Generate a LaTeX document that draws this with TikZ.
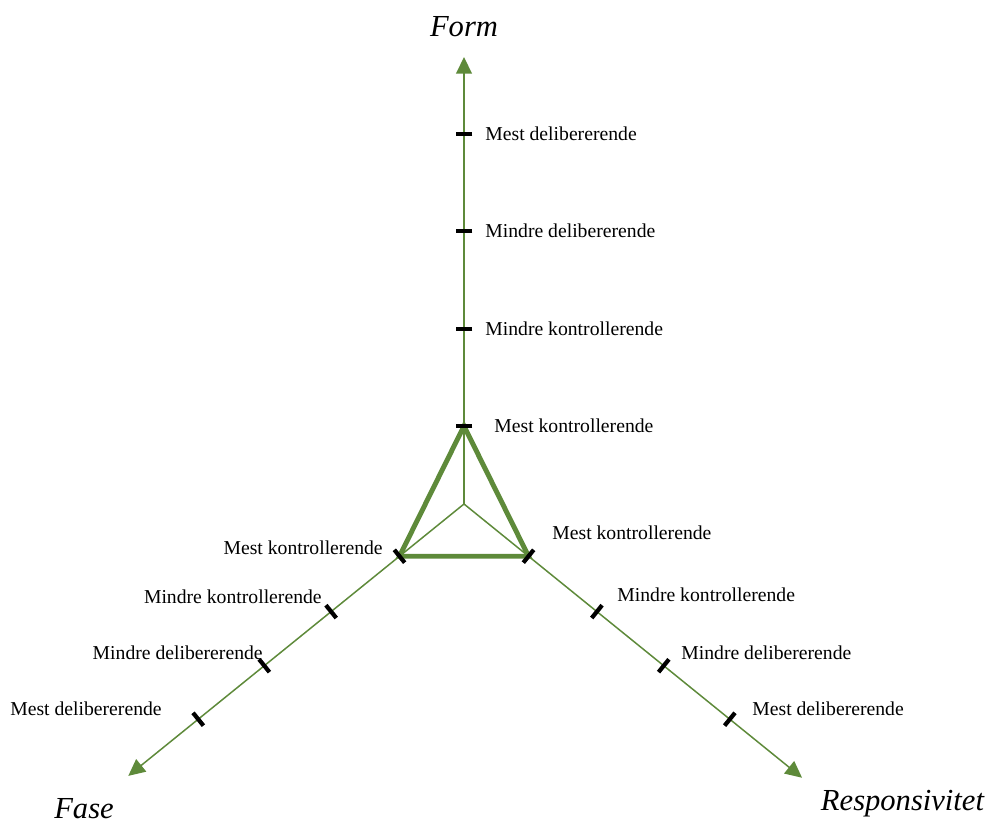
\documentclass[tikz,border=0pt]{standalone}
\usepackage{fontspec}
\setmainfont{Liberation Serif}
\usetikzlibrary{positioning, calc}
\usetikzlibrary{arrows.meta}
\definecolor{axgreen}{RGB}{94,138,58}

\begin{document}
\begin{tikzpicture}[
    axis/.style={axgreen, line width=0.85pt, -{Triangle[length=9.5pt,width=9pt]}},
    tri/.style={axgreen, line width=2.8pt, line join=miter},
    tickmark/.style={black, line width=2.4pt},
    lbl/.style={inner sep=0pt, font=\fontsize{11.2}{13}\selectfont},
    ttl/.style={inner sep=0pt, font=\fontsize{17.4}{20}\selectfont\itshape}]
                \useasboundingbox (0,0) rectangle (19.7,16.46);
                \coordinate (O) at (9.28,6.38);
                \coordinate (top) at (9.28,15.32);
                \coordinate (lft) at ($(O)+(219:8.64)$);
                \coordinate (rgt) at ($(O)+(321:8.70)$);
                \draw[axis] (O) -- (top);
                \draw[axis] (O) -- (lft);
                \draw[axis] (O) -- (rgt);
                \foreach \d [count=\i] in {1.56,3.5,5.46,7.4}
                    \coordinate (v\i) at ($(O)+(90:\d)$);
                \foreach \d [count=\i] in {1.66,3.42,5.14,6.84}
                    \coordinate (l\i) at ($(O)+(219:\d)$);
                \foreach \d [count=\i] in {1.66,3.42,5.14,6.84}
                    \coordinate (r\i) at ($(O)+(321:\d)$);
                \draw[tri] (v1) -- (l1) -- (r1) -- cycle;
                \foreach \i in {1,...,4} {
                    \draw[tickmark] ($(v\i)+(0:0.165)$) -- ($(v\i)+(180:0.165)$);
                    \draw[tickmark] ($(l\i)+(129:0.165)$) -- ($(l\i)+(309:0.165)$);
                    \draw[tickmark] ($(r\i)+(51:0.165)$) -- ($(r\i)+(231:0.165)$);
                }
                \node[lbl, anchor=west] (v4t) at (9.70,13.78) {Mest delibererende};
                \node[lbl, anchor=west] (v3t) at (9.70,11.84) {Mindre delibererende};
                \node[lbl, anchor=west] (v2t) at (9.70,9.88) {Mindre kontrollerende};
                \node[lbl, anchor=west] (v1t) at (9.88,7.94) {Mest kontrollerende};
                \node[lbl, anchor=west] (r1t) at (11.04,5.80) {Mest kontrollerende};
                \node[lbl, anchor=west] (r2t) at (12.34,4.56) {Mindre kontrollerende};
                \node[lbl, anchor=west] (r3t) at (13.62,3.40) {Mindre delibererende};
                \node[lbl, anchor=west] (r4t) at (15.04,2.28) {Mest delibererende};
                \node[lbl, anchor=east] (l1t) at (7.66,5.50) {Mest kontrollerende};
                \node[lbl, anchor=east] (l2t) at (6.44,4.52) {Mindre kontrollerende};
                \node[lbl, anchor=east] (l3t) at (5.26,3.40) {Mindre delibererende};
                \node[lbl, anchor=east] (l4t) at (3.24,2.28) {Mest delibererende};
                \node[ttl, anchor=base] (form) at (9.28,15.72) {Form};
                \node[ttl, anchor=base] (fase) at (1.68,0.10) {Fase};
                \node[ttl, anchor=base] (resp) at (18.05,0.26) {Responsivitet};
\end{tikzpicture}
\end{document}
